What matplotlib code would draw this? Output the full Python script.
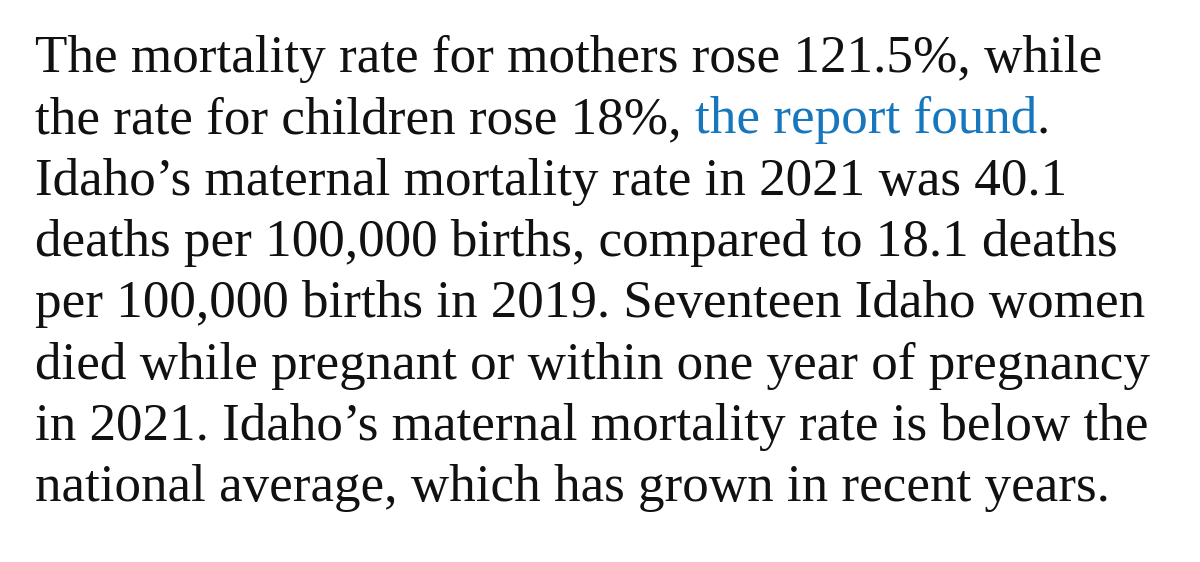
import matplotlib
matplotlib.use("Agg")
import matplotlib.pyplot as plt

# Paragraph text, one entry per rendered line
lines = [
    "The mortality rate for mothers rose 121.5%, while",
    None,  # line with link, built from the parts below
    "Idaho\u2019s maternal mortality rate in 2021 was 40.1",
    "deaths per 100,000 births, compared to 18.1 deaths",
    "per 100,000 births in 2019. Seventeen Idaho women",
    "died while pregnant or within one year of pregnancy",
    "in 2021. Idaho\u2019s maternal mortality rate is below the",
    "national average, which has grown in recent years.",
]
link_line_before = "the rate for children rose 18%,"
link_text = "the report found"
link_line_after = "."

# approximate right edges (px) of lines in the reference, used to fit font size
target_right = [1097, 1052, 1065, 1135, 1160, 1153, 1143, 1085]

W, H = 1200, 562
DPI = 100
fig = plt.figure(figsize=(W / DPI, H / DPI), dpi=DPI)
fig.patch.set_facecolor("white")
renderer = fig.canvas.get_renderer()

FAMILY = "Liberation Serif"
TEXT_COLOR = "#111111"
LINK_COLOR = "#1677bd"
X0 = 35
BASE0 = 72
STEP = 61.3

def full_line(i):
    if lines[i] is None:
        return link_line_before + " " + link_text + link_line_after
    return lines[i]

def width_of(s, size):
    t = fig.text(0, 0, s, fontsize=size, family=FAMILY)
    w = t.get_window_extent(renderer).width
    t.remove()
    return w

# fit font size
ratios = []
for i in range(len(lines)):
    w = width_of(full_line(i), 20)
    ratios.append((target_right[i] - X0) / w)
size = 20 * sum(ratios) / len(ratios)

def put(x, y, s, color):
    return fig.text(x / W, 1 - y / H, s, fontsize=size, family=FAMILY,
                    color=color, ha="left", va="baseline")

space_w = width_of("a a", size) - width_of("aa", size)

for i in range(len(lines)):
    y = BASE0 + i * STEP
    if lines[i] is None:
        t1 = put(X0, y, link_line_before, TEXT_COLOR)
        w1 = t1.get_window_extent(renderer).width
        x2 = X0 + w1 + space_w
        t2 = put(x2, y, link_text, LINK_COLOR)
        w2 = t2.get_window_extent(renderer).width
        put(x2 + w2, y, link_line_after, TEXT_COLOR)
    else:
        put(X0, y, lines[i], TEXT_COLOR)

fig.savefig("out.png", dpi=DPI, facecolor="white")
